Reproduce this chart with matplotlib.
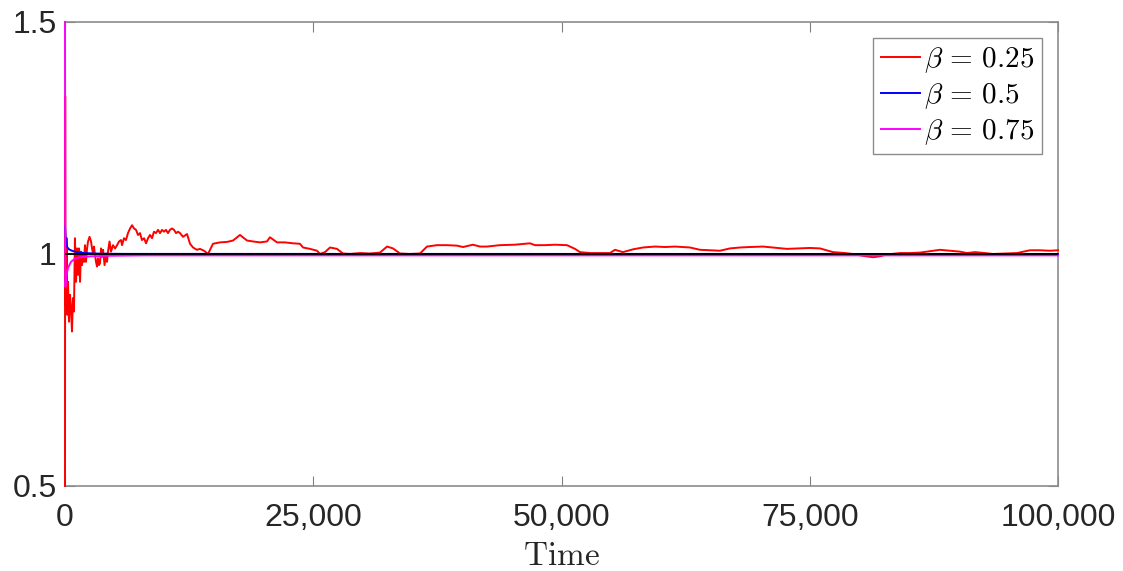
import matplotlib
matplotlib.use('Agg')
import matplotlib.pyplot as plt
from matplotlib.ticker import FuncFormatter

plt.rcParams['font.family'] = ['Liberation Sans', 'DejaVu Sans']
plt.rcParams['mathtext.fontset'] = 'cm'

# Valeurs
t_red = [0, 15, 30, 100, 170, 230, 300, 400, 500, 600, 700, 800, 900, 1000,
         1110, 1210, 1310, 1410, 1510, 1610, 1710, 1810, 1910, 2010, 2110,
         2220, 2320, 2470, 2620, 2720, 2820, 2920, 3020, 3120, 3220, 3320,
         3420, 3520, 3630, 3730, 3830, 3980, 4130, 4230, 4330, 4480, 4630,
         4830, 5040, 5240, 5440, 5640, 5740, 5940, 6140, 6340, 6550, 6750,
         6950, 7150, 7350, 7550, 7750, 7960, 8160, 8360, 8560, 8760, 8960,
         9160, 9370, 9570, 9770, 9970, 10170, 10370, 10570, 10770, 10980,
         11180, 11380, 11580, 11880, 12290, 12590, 12890, 13290, 13590,
         14000, 14400, 14900, 15610, 16310, 16920, 17620, 18330, 18930,
         19640, 20340, 20640, 21350, 22150, 22960, 23660, 23970, 24670,
         25380, 25680, 26180, 26690, 27390, 27990, 28700, 29710, 30710,
         31720, 32430, 33030, 33740, 34740, 35750, 36450, 37460, 38470,
         39470, 40080, 41080, 41790, 42490, 43800, 45310, 46820, 47330,
         48330, 49340, 50550, 51360, 51860, 52870, 53870, 54880, 55390,
         56190, 57200, 58210, 59420, 60420, 61430, 62940, 63950, 64950,
         65960, 66970, 67980, 68980, 70290, 71300, 72710, 74020, 75030,
         76030, 77340, 78550, 79350, 80360, 81370, 82070, 82780, 84090,
         85100, 86100, 87110, 88120, 89120, 90130, 90830, 91640, 92650,
         93450, 94660, 95870, 97180, 98190, 99190, 100000]
v_red = [0.50, 1.34, 0.92, 0.88, 1.034, 0.869, 0.940, 0.854, 0.912, 0.884,
         0.833, 0.905, 0.876, 1.034, 0.940, 1.012, 0.955, 1.012, 0.940,
         1.005, 0.976, 0.998, 0.983, 1.019, 0.983, 1.012, 1.027, 1.037,
         1.027, 1.012, 1.001, 1.016, 0.998, 0.983, 0.973, 0.991, 0.976,
         0.980, 1.012, 0.994, 1.009, 0.976, 1.001, 0.983, 1.005, 1.027,
         1.005, 1.019, 1.012, 1.019, 1.027, 1.030, 1.019, 1.034, 1.030,
         1.045, 1.055, 1.062, 1.055, 1.052, 1.041, 1.045, 1.030, 1.034,
         1.023, 1.034, 1.041, 1.034, 1.048, 1.045, 1.052, 1.045, 1.052,
         1.048, 1.052, 1.045, 1.052, 1.055, 1.052, 1.045, 1.048, 1.045,
         1.037, 1.043, 1.022, 1.014, 1.009, 1.011, 1.007, 1.000, 1.022,
         1.025, 1.026, 1.029, 1.041, 1.029, 1.027, 1.025, 1.027, 1.036,
         1.025, 1.025, 1.023, 1.022, 1.014, 1.011, 1.007, 1.000, 1.004,
         1.014, 1.011, 1.001, 1.000, 1.002, 1.001, 1.003, 1.016, 1.012,
         1.001, 1.000, 1.001, 1.016, 1.019, 1.019, 1.018, 1.015, 1.020,
         1.016, 1.016, 1.019, 1.020, 1.023, 1.019, 1.019, 1.020, 1.019,
         1.011, 1.004, 1.002, 1.002, 1.002, 1.009, 1.004, 1.010, 1.014,
         1.016, 1.015, 1.016, 1.014, 1.009, 1.008, 1.007, 1.012, 1.014,
         1.015, 1.016, 1.014, 1.011, 1.012, 1.013, 1.012, 1.004, 1.002,
         1.000, 0.996, 0.993, 0.995, 0.999, 1.002, 1.002, 1.003, 1.006,
         1.009, 1.007, 1.005, 1.002, 1.004, 1.002, 1.000, 1.001, 1.002,
         1.008, 1.008, 1.007, 1.008]

t_blue = [0, 50, 100, 200, 400, 700, 1000, 1500, 2000, 3000, 4000, 6000, 100000]
v_blue = [1.06, 1.04, 1.03, 1.015, 1.010, 1.007, 1.005, 1.003, 1.002, 1.001,
          1.0005, 1.0002, 1.0]

t_mag = [0, 30, 150, 300, 600, 1000, 1500, 2500, 4000, 8000, 100000]
v_mag = [1.50, 0.93, 0.955, 0.970, 0.983, 0.990, 0.993, 0.995, 0.996, 0.997, 0.997]

labels = [r'$\beta\,=\,0.25$', r'$\beta\,=\,0.5$', r'$\beta\,=\,0.75$']
x_ticks = [0, 25000, 50000, 75000, 100000]
y_ticks = [0.5, 1, 1.5]

fig = plt.figure(figsize=(11.23, 5.71), dpi=100)
ax = fig.add_axes([0.0579, 0.1489, 0.8842, 0.8126])

# courbes non coupées au bord pour que les pics à t=0 restent visibles
ax.plot(t_red, v_red, color='#ff0000', lw=1.4, label=labels[0], zorder=3, clip_on=False)
ax.plot(t_blue, v_blue, color='#0000ff', lw=1.4, label=labels[1], zorder=3, clip_on=False)
ax.plot(t_mag, v_mag, color='#ff00ff', lw=1.4, label=labels[2], zorder=3, clip_on=False)
ax.axhline(1.0, color='black', lw=1.3, zorder=3)

ax.set_xlim(0, 100000)
ax.set_ylim(0.5, 1.5)
ax.set_xticks(x_ticks)
ax.set_yticks(y_ticks)
ax.xaxis.set_major_formatter(FuncFormatter(lambda v, p: f'{int(v):,}'))
ax.yaxis.set_major_formatter(FuncFormatter(lambda v, p: f'{v:g}'))

ax.tick_params(direction='in', length=7, width=0.8, color='#808080',
               labelsize=23, labelcolor='#262626', top=True, right=True, pad=6)
ax.tick_params(axis='x', pad=12)
for s in ax.spines.values():
    s.set_color('#8c8c8c')
    s.set_linewidth(1.2)

ax.set_xlabel(r'$\mathrm{Time}$', fontsize=24, labelpad=6, color='#262626')

leg = ax.legend(loc='upper right', fontsize=21, handlelength=1.35,
                handletextpad=0.15, borderpad=0.25, labelspacing=0.2,
                borderaxespad=0.55, fancybox=False, framealpha=1)
leg.get_frame().set_edgecolor('#8c8c8c')
leg.get_frame().set_linewidth(1.0)
leg.set_zorder(5)

plt.savefig('out.png', dpi=100, facecolor='white')
